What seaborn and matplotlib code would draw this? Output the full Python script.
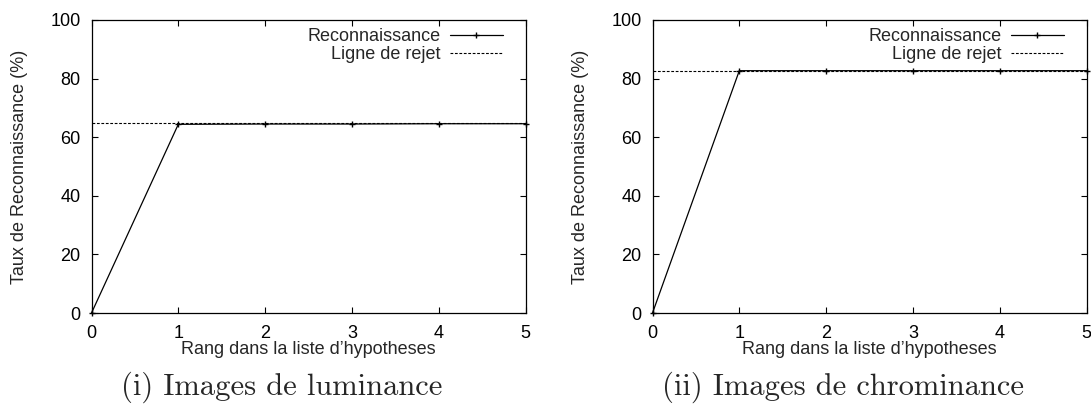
import matplotlib
matplotlib.use("Agg")
import matplotlib.pyplot as plt
import seaborn as sns
import pandas as pd
from matplotlib import font_manager

# ---- data ----
rangs = [0, 1, 2, 3, 4, 5]
reco_lum = [0, 64.4, 64.5, 64.5, 64.6, 64.6]
rejet_lum = 65.0
reco_chrom = [0, 82.7, 82.7, 82.7, 82.7, 82.7]
rejet_chrom = 82.7
captions = ["(i) Images de luminance", "(ii) Images de chrominance"]
xlabel = "Rang dans la liste d\u2019hypotheses"
ylabel = "Taux de Reconnaissance (%)"
legend_labels = ["Reconnaissance", "Ligne de rejet"]
xticks = [0, 1, 2, 3, 4, 5]
yticks = [0, 20, 40, 60, 80, 100]

sns.set_theme(style="ticks")
plt.rcParams['font.family'] = ['Liberation Sans', 'DejaVu Sans']

avail = {f.name for f in font_manager.fontManager.ttflist}
serif = 'cmr10' if 'cmr10' in avail else 'DejaVu Serif'

W, H = 1091, 413
fig = plt.figure(figsize=(W / 100, H / 100), dpi=100)

AX_W = 434
TOP, BOT = 20, 313
panels = [
    (91.5, reco_lum, rejet_lum, captions[0], 282),
    (652.5, reco_chrom, rejet_chrom, captions[1], 843),
]
FS = 13
for x0, reco, rejet, cap, capx in panels:
    ax = fig.add_axes([x0 / W, (H - BOT) / H, AX_W / W, (BOT - TOP) / H])
    df = pd.DataFrame({"rang": rangs, "val": reco})
    sns.lineplot(data=df, x="rang", y="val", ax=ax, color="black", lw=0.9,
                 marker="+", markersize=5, markeredgewidth=1.0,
                 markeredgecolor="black", markerfacecolor="black",
                 label=legend_labels[0], clip_on=False, zorder=3)
    dfr = pd.DataFrame({"rang": [xticks[0], xticks[-1]], "val": [rejet, rejet]})
    sns.lineplot(data=dfr, x="rang", y="val", ax=ax, color="black", lw=0.8,
                 dashes=False, linestyle=(0, (2.5, 1.5)), label=legend_labels[1], zorder=2)
    ax.set_xlim(0, 5)
    ax.set_ylim(0, 100)
    ax.set_xticks(xticks)
    ax.set_yticks(yticks)
    ax.tick_params(direction="in", length=4, width=0.8, top=True, right=True,
                   labelsize=FS, colors="black")
    ax.tick_params(axis="x", pad=9)
    ax.tick_params(axis="y", pad=8)
    for s in ax.spines.values():
        s.set_linewidth(0.9)
        s.set_color("black")
    ax.set_xlabel(xlabel, fontsize=FS, labelpad=-1)
    ax.set_ylabel(ylabel, fontsize=FS, labelpad=16)
    ax.grid(False)
    ax.legend(loc="upper right", bbox_to_anchor=(0.948, 0.972), frameon=False,
              markerfirst=False, fontsize=FS, handlelength=2.95, handletextpad=0.5,
              labelspacing=0.05, borderaxespad=0, borderpad=0)
    fig.text(capx / W, 1 - 372 / H, cap, ha="center", va="top",
             family=serif, fontsize=22)

fig.savefig("out.png", dpi=100)
